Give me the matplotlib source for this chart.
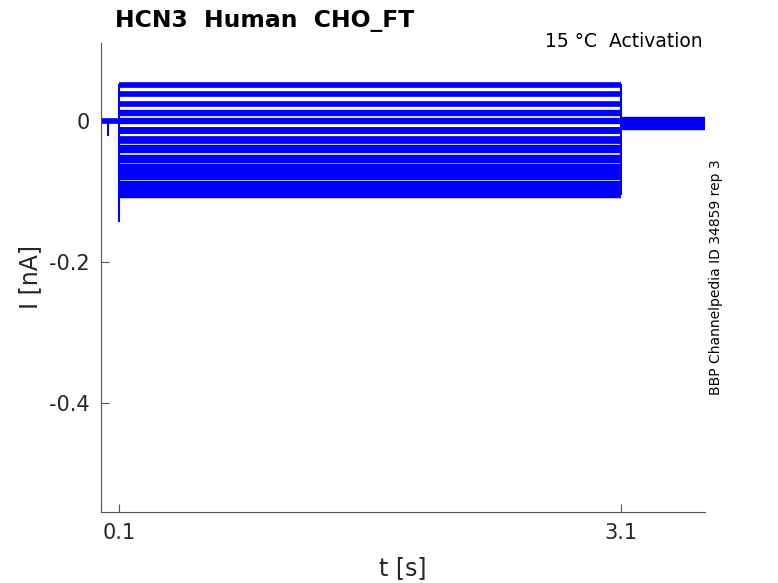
import matplotlib
matplotlib.use('Agg')
import matplotlib.pyplot as plt
import numpy as np

# step protocol timing (s)
t_start = 0.0
t_on = 0.1
t_off = 3.1
t_end = 3.6

# steady current level of each sweep during the step (nA)
step_levels = [0.051, 0.037, 0.024, 0.011, -0.001, -0.013, -0.027,
               -0.041, -0.055, -0.067, -0.078, -0.092, -0.104]
# apparent noise band of each sweep (nA)
noise_band = [0.008, 0.008, 0.008, 0.009, 0.009, 0.010, 0.011,
              0.012, 0.012, 0.012, 0.012, 0.013, 0.012]
# holding level before and after the step (nA)
hold_level = 0.0
tail_level = -0.003
tail_band = 0.019
# capacitive transients
onset_peak = -0.143
pre_dip_t = 0.034
pre_dip = -0.02

title = 'HCN3  Human  CHO_FT'
cond = '15 °C  Activation'
side = 'BBP Channelpedia ID 34859 rep 3'

fig = plt.figure(figsize=(7.78, 5.83), dpi=100)
ax = fig.add_axes([0.1298, 0.1218, 0.7763, 0.8045])

# band height in points from data units
ppd = 0.8045 * 5.83 * 72 / (0.11 + 0.555)
blue = (0, 0, 1)

ax.plot([t_start, t_on], [hold_level, hold_level], color=blue, lw=0.008 * ppd, solid_capstyle='butt')
ax.plot([pre_dip_t, pre_dip_t], [hold_level, pre_dip], color=blue, lw=1.5)
for lev, nb in zip(step_levels, noise_band):
    ax.plot([t_on, t_off], [lev, lev], color=blue, lw=nb * ppd, solid_capstyle='butt')
ax.plot([t_on, t_on], [max(step_levels), onset_peak], color=blue, lw=1.5)
ax.plot([t_off, t_off], [max(step_levels), min(step_levels)], color=blue, lw=1.5)
ax.plot([t_off, t_end], [tail_level, tail_level], color=blue, lw=tail_band * ppd, solid_capstyle='butt')

ax.set_xlim(-0.008, 3.6)
ax.set_ylim(-0.555, 0.11)
ax.set_xticks([0.1, 3.1])
ax.set_xticklabels(['0.1', '3.1'])
ax.set_yticks([-0.4, -0.2, 0])
ax.set_yticklabels(['-0.4', '-0.2', '0'])
for s in ['top', 'right']:
    ax.spines[s].set_visible(False)
for s in ['left', 'bottom']:
    ax.spines[s].set_color('#555555')
    ax.spines[s].set_linewidth(0.8)
ax.tick_params(direction='in', length=6, width=0.8, color='#555555',
               labelsize=15, labelcolor='#262626', pad=8)
ax.set_xlabel('t [s]', fontsize=17, color='#262626', labelpad=9)
ax.set_ylabel('I [nA]', fontsize=17, color='#262626', labelpad=5)

fig.text(115 / 778, 1 - 27 / 583, title, fontsize=16.9, fontweight='bold', ha='left', va='baseline')
fig.text(703 / 778, 1 - 47 / 583, cond, fontsize=13.5, ha='right', va='baseline')
fig.text(716 / 778, 1 - 277 / 583, side, rotation=90, fontsize=10, ha='center', va='center')

fig.savefig('out.png', dpi=100)
